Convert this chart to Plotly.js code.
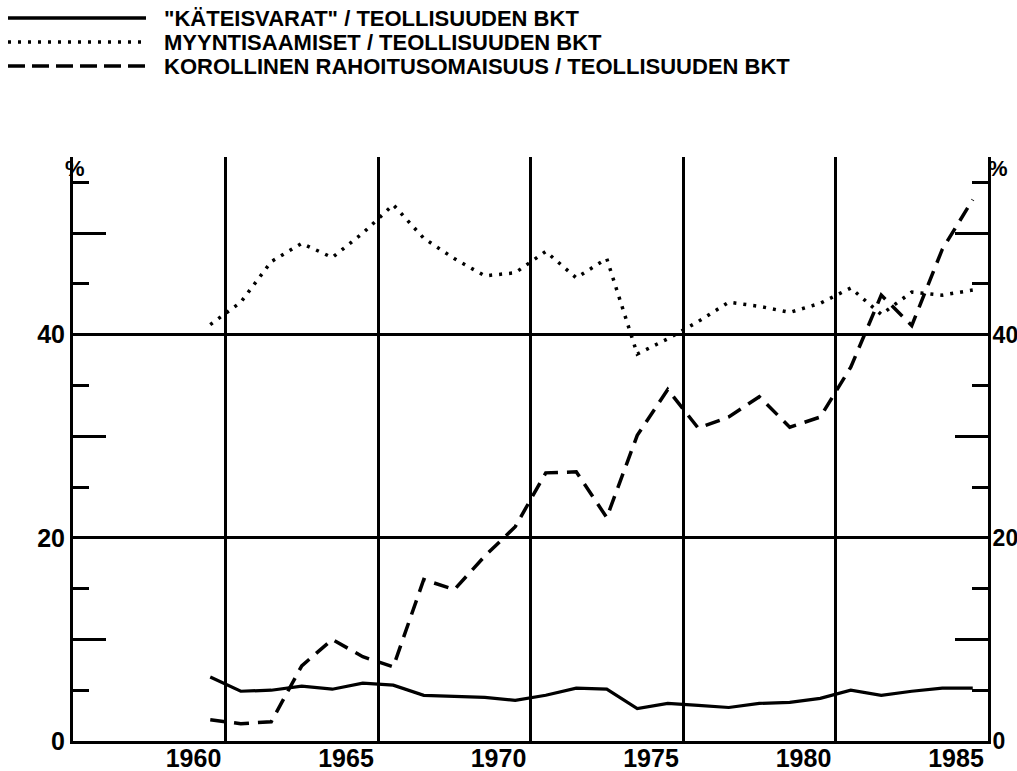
<!DOCTYPE html>
<html>
<head>
<meta charset="utf-8">
<script src="https://cdn.plot.ly/plotly-3.0.1.min.js"></script>
<style>
  html, body { margin: 0; padding: 0; background: #fff; }
  #chart { width: 1017px; height: 771px; }
</style>
</head>
<body>
<div id="chart"></div>
<script>
// ---- data ----
const years = [1960,1961,1962,1963,1964,1965,1966,1967,1968,1969,1970,1971,1972,
               1973,1974,1975,1976,1977,1978,1979,1980,1981,1982,1983,1984,1985];
const kateisvarat = [6.3,4.9,5.0,5.4,5.1,5.7,5.5,4.5,4.4,4.3,4.0,4.5,5.2,
                     5.1,3.2,3.7,3.5,3.3,3.7,3.8,4.2,5.0,4.5,4.9,5.2,5.2];
const myyntisaamiset = [41.0,43.2,47.2,49.0,47.6,50.0,52.8,49.5,47.5,45.8,46.1,48.2,45.6,
                        47.5,38.1,39.6,41.3,43.2,42.8,42.2,43.1,44.6,42.0,44.2,43.9,44.4];
const korollinen = [2.1,1.7,1.9,7.4,10.0,8.3,7.3,15.9,14.9,18.2,21.1,26.4,26.5,
                    22.0,30.1,34.6,30.8,31.9,33.9,30.9,31.9,36.8,43.9,40.9,48.4,53.3];
const seriesNames = ['"KÄTEISVARAT" / TEOLLISUUDEN BKT',
                     'MYYNTISAAMISET / TEOLLISUUDEN BKT',
                     'KOROLLINEN RAHOITUSOMAISUUS / TEOLLISUUDEN BKT'];
const xTickVals = [1960.5,1965.5,1970.5,1975.5,1980.5,1985.5];
const xTickText = ['1960','1965','1970','1975','1980','1985'];
const yMajorVals = [0,10,20,30,40,50];
const yMajorText = ['0','','20','','40',''];
const yMinorVals = [5,15,25,35,45,55];
const yGridVals = [20,40];

// ---- styling ----
const FONT = 'Liberation Sans, Arial, sans-serif';
const BLACK = '#000';
const YRANGE = [0, 57.5];
const dotDash = '3px,7px';
const dashDash = '15px,9px';

const traces = [
  {x: years, y: kateisvarat, name: seriesNames[0], type: 'scatter', mode: 'lines',
   xaxis: 'x', yaxis: 'y', line: {color: BLACK, width: 3.2}},
  {x: years, y: myyntisaamiset, name: seriesNames[1], type: 'scatter', mode: 'lines',
   xaxis: 'x', yaxis: 'y2', line: {color: BLACK, width: 3.5, dash: dotDash}},
  {x: years, y: korollinen, name: seriesNames[2], type: 'scatter', mode: 'lines',
   xaxis: 'x', yaxis: 'y3', line: {color: BLACK, width: 3.5, dash: dashDash}}
];

const tickFont = {family: FONT, size: 25, color: BLACK, weight: 'bold'};
const tickFontR = {family: FONT, size: 23, color: BLACK, weight: 'bold'};

const yCommon = {
  range: YRANGE, fixedrange: true, zeroline: false,
  tickmode: 'array', tickvals: yMajorVals, ticktext: yMajorText,
  ticks: 'inside', ticklen: 33, tickwidth: 3, tickcolor: BLACK,
  minor: {tickmode: 'array', tickvals: yMinorVals, ticks: 'inside', ticklen: 16,
          tickwidth: 3, tickcolor: BLACK, showgrid: false},
  showgrid: false, showline: true, linewidth: 3, linecolor: BLACK
};

// legend built as annotations + sample line shapes (paper coords)
const L = 73, R = 988, T = 157, B = 741;
const px = v => (v - L) / (R - L);
const py = v => (B - v) / (B - T);
const legendRows = [18, 42, 66];
const legendDash = ['solid', '3px,7px', '17px,7px'];
const shapes = legendRows.map((r, i) => ({
  type: 'line', xref: 'paper', yref: 'paper',
  x0: px(8), x1: px(146), y0: py(r), y1: py(r),
  line: {color: BLACK, width: 3.5, dash: legendDash[i]}
}));
const annotations = legendRows.map((r, i) => ({
  xref: 'paper', yref: 'paper', x: px(162), y: py(r),
  xanchor: 'left', yanchor: 'middle', showarrow: false,
  text: seriesNames[i],
  font: {family: FONT, size: 22, color: BLACK, weight: 'bold'}
}));
annotations.push({xref: 'paper', yref: 'paper', x: px(75), y: py(168),
  xanchor: 'center', yanchor: 'middle', showarrow: false, text: '%',
  font: {family: FONT, size: 22, color: BLACK, weight: 'bold'}});
annotations.push({xref: 'paper', yref: 'paper', x: px(998), y: py(168),
  xanchor: 'center', yanchor: 'middle', showarrow: false, text: '%',
  font: {family: FONT, size: 22, color: BLACK, weight: 'bold'}});

const layout = {
  width: 1017, height: 771,
  margin: {l: L, r: 1017 - R, t: T, b: 771 - B, pad: 0},
  paper_bgcolor: '#fff', plot_bgcolor: '#fff',
  showlegend: false,
  xaxis: {
    range: [1955.5, 1985.5], fixedrange: true, zeroline: false,
    tickmode: 'array', tickvals: xTickVals, ticktext: xTickText,
    ticks: '', ticklabelshift: -32, ticklabelstandoff: -7,
    showgrid: true, gridcolor: BLACK, gridwidth: 3,
    showline: true, linewidth: 3, linecolor: BLACK,
    tickfont: tickFont
  },
  yaxis: Object.assign({}, yCommon, {side: 'left', tickfont: tickFont}),
  yaxis2: Object.assign({}, yCommon, {side: 'right', overlaying: 'y',
    tickfont: tickFontR, ticklabelstandoff: -3}),
  yaxis3: {
    range: YRANGE, fixedrange: true, overlaying: 'y', side: 'left',
    tickmode: 'array', tickvals: yGridVals, showticklabels: false, ticks: '',
    showgrid: true, gridcolor: BLACK, gridwidth: 3, zeroline: false, showline: false
  },
  shapes: shapes,
  annotations: annotations
};

Plotly.newPlot('chart', traces, layout, {staticPlot: true, displayModeBar: false});
</script>
</body>
</html>
